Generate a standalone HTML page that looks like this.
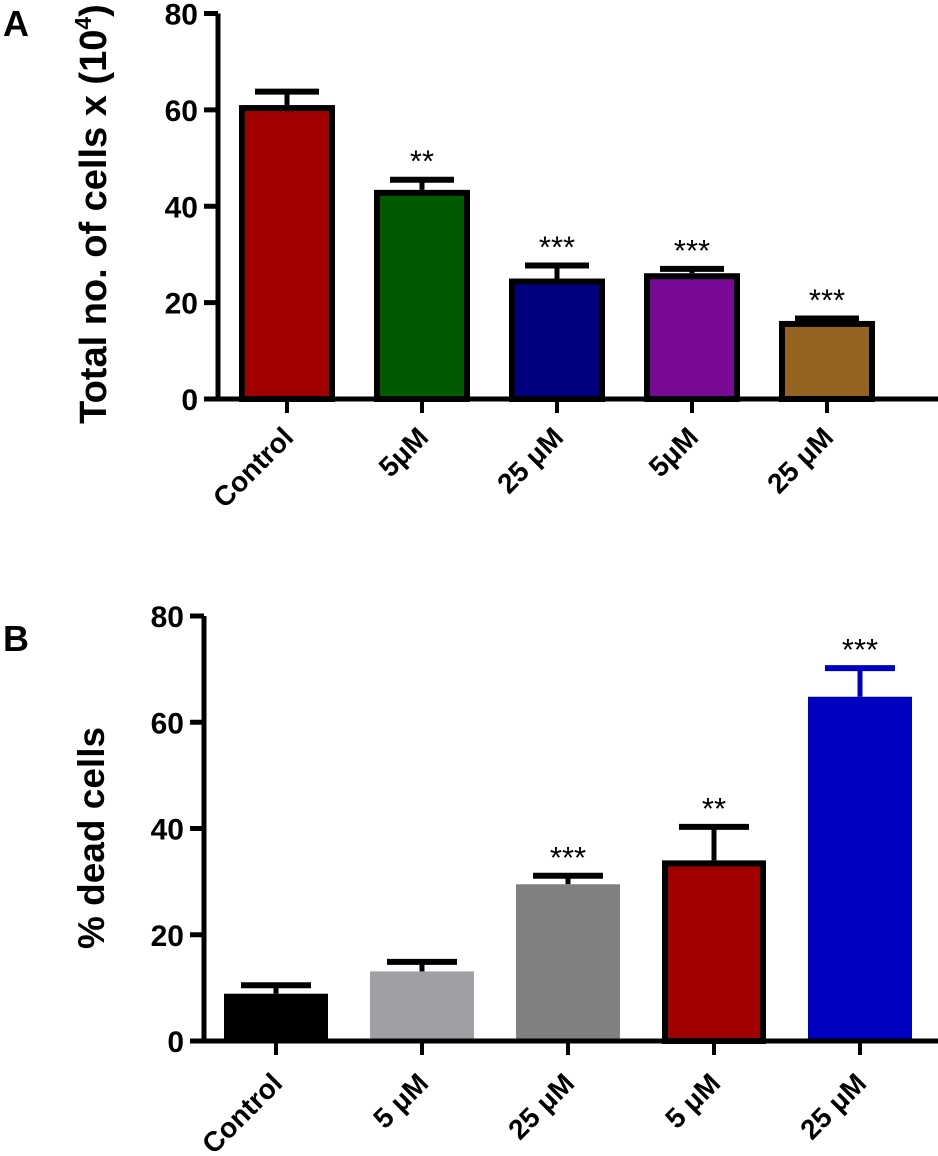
<!DOCTYPE html>
<html><head><meta charset="utf-8"><style>
html,body{margin:0;padding:0;background:#fff;}
svg{display:block;font-family:"Liberation Sans",Arial,sans-serif;font-weight:bold;}
</style></head><body>
<svg id="chart" width="938" height="1156" viewBox="0 0 938 1156" xmlns="http://www.w3.org/2000/svg">
<text x="3" y="36" font-size="36">A</text>
<text x="3" y="651" font-size="36">B</text>
<g id="pa"></g>
<g id="pb"></g>
</svg>
<script>
const catsA = ["Control","5\u03bcM","25 \u03bcM","5\u03bcM","25 \u03bcM"];
const valsA = [61.0,43.4,25.0,26.1,16.2];
const errA = [63.8,45.5,27.7,27.0,16.7];
const sigA = ["","**","***","***","***"];
const colorsA = ["#a00000","#005a00","#000080","#780896","#956421"];
const catsB = ["Control","5 \u03bcM","25 \u03bcM","5 \u03bcM","25 \u03bcM"];
const valsB = [8.9,13.1,29.5,34.0,64.8];
const errB = [10.5,14.9,31.1,40.3,70.2];
const sigB = ["","","***","**","***"];
const colorsB = ["#000000","#a09fa4","#808080","#a00000","#0000c0"];
const ticks = [0,20,40,60,80];
const NS="http://www.w3.org/2000/svg";
function mk(parent,tag,attrs,txt){const e=document.createElementNS(NS,tag);for(const k in attrs)e.setAttribute(k,attrs[k]);if(txt!==undefined)e.textContent=txt;parent.appendChild(e);return e;}
function panel(g,cfg){
  const y=v=>cfg.y0-(v/80)*(cfg.y0-cfg.y80);
  const x=i=>cfg.x0+i*cfg.pitch;
  cfg.vals.forEach((v,i)=>{
    const cx=x(i), hw=cfg.bw/2, bord=cfg.border[i];
    const ec=cfg.errColor[i];
    const l=mk(g,'line',{x1:cx,x2:cx,y1:y(v),y2:y(cfg.err[i]),stroke:ec,'stroke-width':5});
    
    
    const cap=mk(g,'line',{x1:cx-cfg.cap,x2:cx+cfg.cap,y1:y(cfg.err[i]),y2:y(cfg.err[i]),stroke:ec,'stroke-width':6});
    
    
    let r;
    if(bord){r=mk(g,'rect',{x:cx-hw+3,y:y(v)+3,width:cfg.bw-6,height:cfg.y0-y(v)-3,fill:cfg.colors[i],stroke:'#000','stroke-width':6});}
    else{r=mk(g,'rect',{x:cx-hw,y:y(v),width:cfg.bw,height:cfg.y0-y(v),fill:cfg.colors[i]});}
    
    
    if(cfg.sig[i]){const s=mk(g,'text',{x:cx,y:y(cfg.err[i])-8,'font-size':31,'font-weight':'normal','text-anchor':'middle'},cfg.sig[i]);
      
      }
    const t=mk(g,'line',{x1:cx,x2:cx,y1:cfg.y0,y2:cfg.y0+14,stroke:'#000','stroke-width':4});
    
    
    const lb=mk(g,'text',{x:0,y:0,'font-size':28,'text-anchor':'end',transform:`translate(${cx+8},${cfg.y0+cfg.ly}) rotate(-45)`},cfg.cats[i]);
    
    
  });
  const ax=mk(g,'line',{x1:cfg.ax,x2:cfg.ax,y1:cfg.y80,y2:cfg.y0+2.5,stroke:'#000','stroke-width':5});
  
  
  const xa=mk(g,'line',{x1:cfg.ax-14,x2:938,y1:cfg.y0,y2:cfg.y0,stroke:'#000','stroke-width':5});
  
  
  ticks.forEach(tv=>{
    const tl=mk(g,'line',{x1:cfg.ax-14,x2:cfg.ax,y1:y(tv),y2:y(tv),stroke:'#000','stroke-width':5});
    
    
    const tt=mk(g,'text',{x:cfg.ax-20,y:y(tv)+11,'font-size':30,'text-anchor':'end'},String(tv));
    
    
  });
}
panel(document.getElementById('pa'),{y0:399,y80:13.5,x0:287,pitch:135,bw:96,cap:32,ax:218,ly:40,vals:valsA,err:errA,sig:sigA,colors:colorsA,cats:catsA,border:[1,1,1,1,1],errColor:["#000","#000","#000","#000","#000"]});
panel(document.getElementById('pb'),{y0:1041,y80:616,x0:276,pitch:146,bw:104,cap:35,ax:204,ly:44,vals:valsB,err:errB,sig:sigB,colors:colorsB,cats:catsB,border:[0,0,0,1,0],errColor:["#000","#000","#000","#000","#0000c0"]});
</script>
<svg style="position:absolute;left:0;top:0" width="938" height="1156">
<text transform="translate(106,214) rotate(-90)" text-anchor="middle" font-size="38" font-family="Liberation Sans, Arial, sans-serif" font-weight="bold">Total no. of cells x (10<tspan font-size="23" dy="-15">4</tspan><tspan dy="15">)</tspan></text>
<text transform="translate(104,838) rotate(-90)" text-anchor="middle" font-size="37" font-family="Liberation Sans, Arial, sans-serif" font-weight="bold">% dead cells</text>
</svg>
</body></html>
